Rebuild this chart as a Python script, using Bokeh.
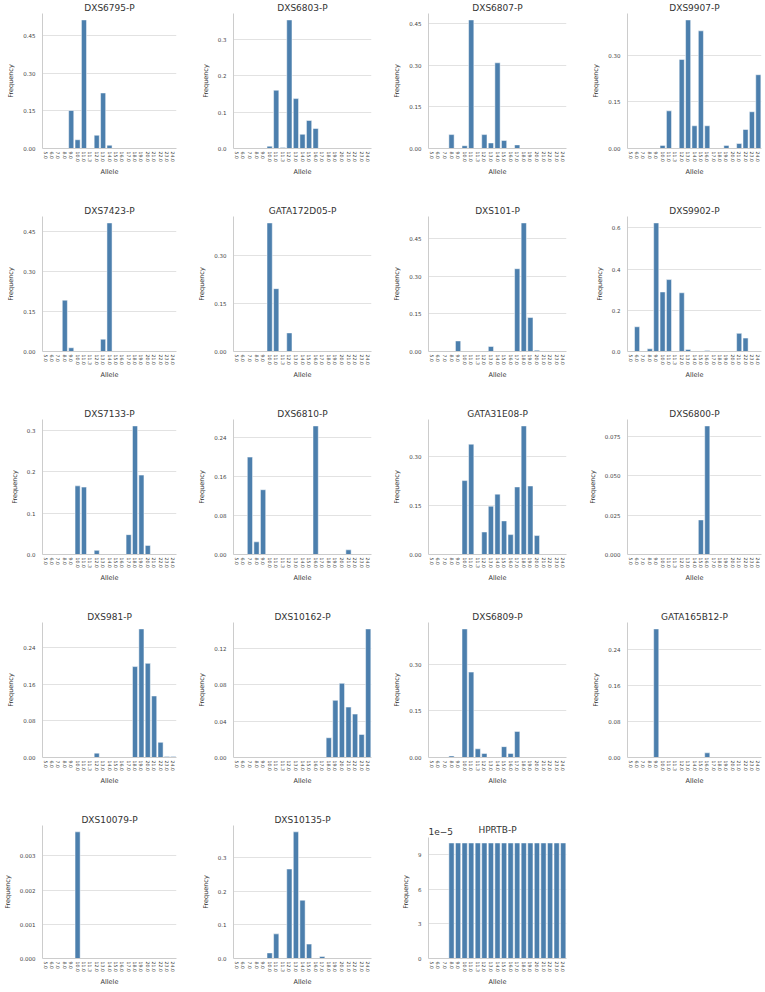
from bokeh.plotting import figure
from bokeh.models import ColumnDataSource, FactorRange, Range1d, FixedTicker, CustomJSTickFormatter
from bokeh.core.properties import value
from bokeh.layouts import gridplot
from bokeh.embed import file_html
from bokeh.resources import INLINE

alleles = ["5.0", "6.0", "7.0", "8.0", "9.0", "10.0", "11.0", "11.3", "12.0", "13.0",
           "14.0", "15.0", "16.0", "17.0", "18.0", "19.0", "20.0", "21.0", "22.0", "23.0", "24.0"]

markers = ["DXS6795-P", "DXS6803-P", "DXS6807-P", "DXS9907-P",
           "DXS7423-P", "GATA172D05-P", "DXS101-P", "DXS9902-P",
           "DXS7133-P", "DXS6810-P", "GATA31E08-P", "DXS6800-P",
           "DXS981-P", "DXS10162-P", "DXS6809-P", "GATA165B12-P",
           "DXS10079-P", "DXS10135-P", "HPRTB-P"]

dxs6795 = [0, 0, 0, 0, 0.152, 0.035, 0.514, 0, 0.053, 0.222, 0.013, 0, 0, 0, 0, 0, 0, 0, 0, 0, 0]
dxs6803 = [0, 0, 0, 0, 0, 0.0064, 0.16, 0.003, 0.353, 0.137, 0.039, 0.077, 0.055, 0, 0, 0, 0, 0, 0, 0, 0]
dxs6807 = [0, 0, 0, 0.05, 0, 0.01, 0.462, 0, 0.05, 0.02, 0.308, 0.029, 0, 0.013, 0, 0, 0, 0, 0, 0, 0]
dxs9907 = [0, 0, 0, 0, 0, 0.01, 0.121, 0, 0.286, 0.413, 0.073, 0.378, 0.073, 0, 0, 0.01, 0.002, 0.016, 0.061, 0.118, 0.237]
dxs7423 = [0, 0, 0, 0.192, 0.014, 0, 0, 0, 0, 0.046, 0.481, 0, 0, 0, 0, 0, 0, 0, 0, 0, 0]
gata172d05 = [0, 0, 0, 0, 0, 0.401, 0.196, 0, 0.058, 0, 0, 0, 0, 0, 0, 0, 0, 0, 0, 0, 0]
dxs101 = [0, 0, 0, 0, 0.042, 0, 0, 0, 0, 0.02, 0, 0, 0, 0.329, 0.511, 0.135, 0.005, 0, 0, 0, 0]
dxs9902 = [0, 0.12, 0, 0.013, 0.624, 0.289, 0.349, 0, 0.285, 0.01, 0, 0, 0.005, 0, 0, 0, 0, 0.088, 0.065, 0, 0]
dxs7133 = [0, 0, 0, 0, 0, 0.166, 0.163, 0, 0.01, 0, 0, 0, 0, 0.048, 0.311, 0.192, 0.022, 0, 0, 0, 0]
dxs6810 = [0, 0, 0.2, 0.026, 0.133, 0, 0, 0, 0, 0, 0, 0, 0.264, 0, 0, 0, 0, 0.0096, 0, 0, 0]
gata31e08 = [0, 0, 0, 0, 0, 0.2265, 0.338, 0, 0.069, 0.148, 0.185, 0.103, 0.061, 0.207, 0.394, 0.21, 0.058, 0, 0, 0, 0]
dxs6800 = [0, 0, 0, 0, 0, 0, 0, 0, 0, 0, 0, 0.022, 0.0818, 0, 0, 0, 0, 0, 0, 0, 0]
dxs981 = [0, 0, 0, 0, 0, 0, 0, 0, 0.0095, 0, 0, 0, 0, 0, 0.198, 0.28, 0.205, 0.134, 0.033, 0.002, 0.002]
dxs10162 = [0, 0, 0, 0, 0, 0, 0, 0, 0, 0, 0, 0, 0, 0, 0.0217, 0.0628, 0.0815, 0.0554, 0.0477, 0.0253, 0.1413]
dxs6809 = [0, 0, 0, 0.005, 0, 0.414, 0.275, 0.028, 0.013, 0, 0, 0.035, 0.013, 0.084, 0.002, 0, 0, 0, 0, 0, 0]
gata165b12 = [0, 0, 0, 0, 0.286, 0, 0, 0, 0, 0, 0, 0, 0.0104, 0, 0, 0, 0, 0, 0, 0, 0]
dxs10079 = [0, 0, 0, 0, 0, 0.0037, 0, 0, 0, 0, 0, 0, 0, 0, 0, 0, 0, 0, 0, 0, 0]
dxs10135 = [0, 0, 0, 0, 0, 0.0167, 0.0735, 0, 0.267, 0.378, 0.174, 0.043, 0, 0.006, 0, 0, 0, 0, 0, 0, 0]
hprtb = [0, 0, 0, 1e-4, 1e-4, 1e-4, 1e-4, 1e-4, 1e-4, 1e-4, 1e-4, 1e-4, 1e-4, 1e-4, 1e-4, 1e-4, 1e-4, 1e-4, 1e-4, 1e-4, 1e-4]

series = [dxs6795, dxs6803, dxs6807, dxs9907, dxs7423, gata172d05, dxs101, dxs9902,
          dxs7133, dxs6810, gata31e08, dxs6800, dxs981, dxs10162, dxs6809, gata165b12,
          dxs10079, dxs10135, hprtb]

# y tick values and decimals for tick labels
yticks = [[0, 0.15, 0.30, 0.45], [0, 0.1, 0.2, 0.3], [0, 0.15, 0.30, 0.45], [0, 0.15, 0.30],
          [0, 0.15, 0.30, 0.45], [0, 0.15, 0.30], [0, 0.15, 0.30, 0.45], [0, 0.2, 0.4, 0.6],
          [0, 0.1, 0.2, 0.3], [0, 0.08, 0.16, 0.24], [0, 0.15, 0.30], [0, 0.025, 0.050, 0.075],
          [0, 0.08, 0.16, 0.24], [0, 0.04, 0.08, 0.12], [0, 0.15, 0.30], [0, 0.08, 0.16, 0.24],
          [0, 0.001, 0.002, 0.003], [0, 0.1, 0.2, 0.3], [0, 3e-5, 6e-5, 9e-5]]
ydecimals = [2, 1, 2, 2, 2, 2, 2, 1, 1, 2, 2, 3, 2, 2, 2, 2, 3, 1, 0]
yscale = [1] * 18 + [1e5]
offset_text = {18: "1e\u22125"}

FONT = "DejaVu Sans"
BAR = "#4c7fad"
TEXT = "#333333"

PITCH_W = 195
LAST_W = 179
FRAME_W = 139
BL = 37
FRAME_H = 135
BT = 13
PITCH_H = 203
LAST_BB = 28

grid = []
for i, (name, vals) in enumerate(zip(markers, series)):
    r, c = divmod(i, 4)
    last_col = (c == 3)
    last_row = (r == 4)
    w = LAST_W if last_col else PITCH_W
    bb = LAST_BB if last_row else PITCH_H - BT - FRAME_H
    h = BT + FRAME_H + bb
    ymax = max(vals) * 1.05
    has_offset = i in offset_text
    if has_offset:
        # frame extends to the top edge so the heading texts can sit above the bars
        bt = 0
        yend = ymax * (BT + FRAME_H) / FRAME_H
    else:
        bt = BT
        yend = ymax
    p = figure(x_range=FactorRange(factors=alleles, range_padding=0),
               y_range=Range1d(0, yend),
               title=None if has_offset else name,
               width=w, height=h, output_backend="svg", toolbar_location=None,
               min_border_left=BL, min_border_right=w - BL - FRAME_W,
               min_border_top=bt, min_border_bottom=bb)
    xs = [a for a, v in zip(alleles, vals) if v > 0]
    ys = [v for v in vals if v > 0]
    src = ColumnDataSource(dict(x=xs, top=ys))
    p.vbar(x="x", top="top", bottom=0, width=0.8, source=src,
           fill_color=BAR, line_color="white", line_width=0.5)
    if not has_offset:
        p.title.align = "center"
        p.title.text_font = FONT
        p.title.text_font_size = "9px"
        p.title.text_font_style = "normal"
        p.title.text_color = TEXT
        p.title.standoff = 1
    p.outline_line_color = None
    p.background_fill_color = "white"
    p.xgrid.visible = False
    p.ygrid.grid_line_color = "#e2e2e2"
    p.ygrid.grid_line_width = 1
    for ax in (p.xaxis[0], p.yaxis[0]):
        ax.axis_line_color = "#cccccc"
        ax.axis_line_width = 1
        ax.major_tick_line_color = None
        ax.minor_tick_line_color = None
        ax.major_tick_out = 0
        ax.major_tick_in = 0
        ax.minor_tick_out = 0
        ax.minor_tick_in = 0
        ax.major_label_text_font = FONT
        ax.major_label_text_color = "#444444"
        ax.axis_label_text_font = FONT
        ax.axis_label_text_font_size = "6.5px"
        ax.axis_label_text_font_style = "normal"
        ax.axis_label_text_color = TEXT
    p.xaxis.axis_label = "Allele"
    p.xaxis.major_label_orientation = "vertical"
    p.xaxis.major_label_text_font_size = "4.7px"
    p.xaxis.major_label_standoff = 3
    p.xaxis.axis_label_standoff = 3
    p.yaxis.axis_label = "Frequency"
    p.yaxis.major_label_text_font_size = "5.5px"
    p.yaxis.major_label_standoff = 7
    p.yaxis.axis_label_standoff = 5
    p.yaxis.ticker = FixedTicker(ticks=yticks[i])
    p.yaxis.formatter = CustomJSTickFormatter(args=dict(d=ydecimals[i], s=yscale[i]),
                                              code="return (tick*s).toFixed(d);")
    if has_offset:
        p.yaxis.bounds = (0, ymax)
        px = yend / (BT + FRAME_H)
        n = len(alleles)
        p.text(x=[n / 2.0], y=[ymax + 2 * px], text=[name],
               text_font=value(FONT), text_font_size="9px", text_color=TEXT,
               text_align="center", text_baseline="bottom")
        p.text(x=[0], y=[ymax + 2 * px], text=[offset_text[i]],
               text_font=value(FONT), text_font_size="9px", text_color=TEXT,
               text_align="left", text_baseline="bottom")
    if c == 0:
        grid.append([])
    grid[-1].append(p)

grid[-1].append(None)

layout = gridplot(grid, toolbar_location=None)
open("out.html", "w").write(file_html(layout, INLINE))
